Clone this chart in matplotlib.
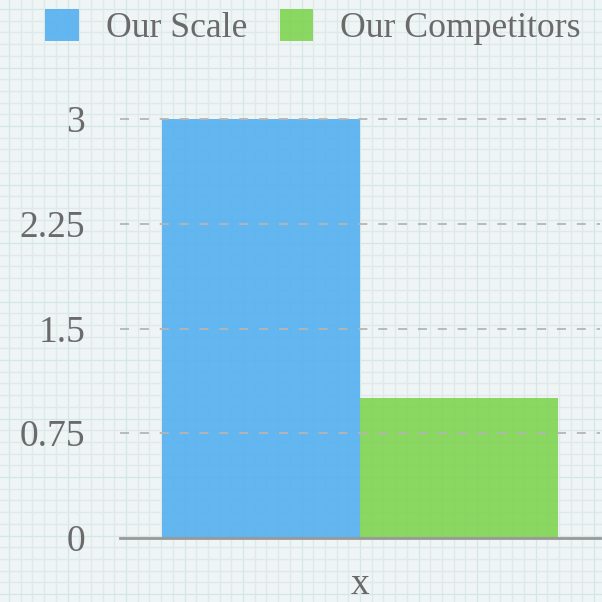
import matplotlib.pyplot as plt
import numpy as np

# data
series = ["Our Scale", "Our Competitors"]
values = [3, 1]
colors = ["#58b2ef", "#82d557"]
category = "x"
yticks = [0, 0.75, 1.5, 2.25, 3]
ytick_labels = ["0", "0.75", "1.5", "2.25", "3"]

plt.rcParams['font.family'] = ['Liberation Serif', 'DejaVu Serif']

fig = plt.figure(figsize=(6.02, 6.02), dpi=100)
fig.patch.set_facecolor("#eff4f4")

# graph paper background
bg = fig.add_axes([0, 0, 1, 1], zorder=0)
bg.set_xlim(0, 602)
bg.set_ylim(602, 0)
bg.axis("off")
step = 11.7
for i, p in enumerate(np.arange(9, 602, step)):
    c = "#d3e6e8" if i % 5 == 0 else "#dde9ea"
    bg.axvline(p, color=c, lw=0.9)
    bg.axhline(p, color=c, lw=0.9)

ax = fig.add_axes([120 / 602, 1 - 538 / 602, 480 / 602, 419 / 602], zorder=1)
ax.patch.set_alpha(0)

width = 0.4125
for i, (name, v, c) in enumerate(zip(series, values, colors)):
    ax.bar((i - 0.5) * width, v, width, color=c, alpha=0.93, label=name, zorder=2)

ax.set_xlim(-0.5, 0.5)
ax.set_ylim(0, 3)
ax.set_yticks(yticks)
ax.set_yticklabels(ytick_labels)
ax.set_xticks([0])
ax.set_xticklabels([category])
ax.tick_params(axis="y", length=0, pad=25, labelsize=27, colors="#6a6a6a")
ax.tick_params(axis="x", length=0, pad=21, labelsize=27, colors="#6a6a6a")

for t in yticks[1:]:
    ax.axhline(t, color="#b5b5b5", lw=1.3, ls=(0, (5, 6)), zorder=3, clip_on=False)

for s in ["top", "right", "left"]:
    ax.spines[s].set_visible(False)
ax.spines["bottom"].set_color("#999999")
ax.spines["bottom"].set_linewidth(2)
ax.spines["bottom"].set_zorder(4)

fig.legend(loc="upper center", bbox_to_anchor=(0.52, 1.038), ncol=2, frameon=False,
           fontsize=25.7, labelcolor="#6a6a6a", handlelength=0.95, handleheight=1.0,
           handletextpad=0.75, columnspacing=0.9)

plt.savefig("out.png", dpi=100, facecolor=fig.get_facecolor())
